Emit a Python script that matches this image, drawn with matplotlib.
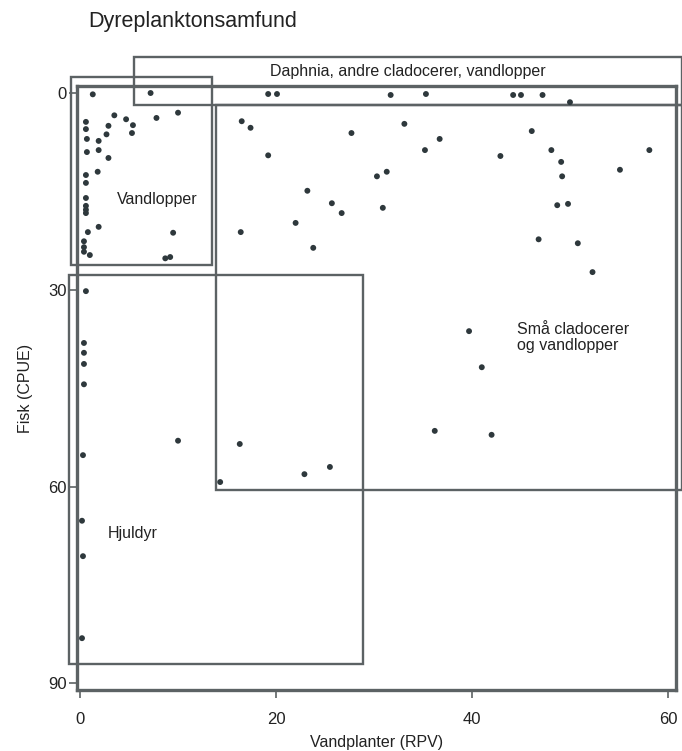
import matplotlib

matplotlib.use("Agg")
import matplotlib.pyplot as plt
from matplotlib.patches import Rectangle

plt.rcParams["font.family"] = ["Liberation Sans", "DejaVu Sans"]

INK = "#2e383c"
LINE = "#5c6264"
TXT = "#222222"

# Vandplanter (RPV) vs Fisk (CPUE) for each lake
veg = [1.3, 7.2, 3.5, 4.7, 5.4, 7.8, 10.0, 2.9, 5.3, 2.7, 0.6, 0.6, 0.7, 1.9,
       0.7, 1.9, 2.9, 1.8, 0.6, 0.6, 0.6, 0.6, 0.6, 0.6, 1.9, 0.8, 9.5, 0.4,
       0.4, 0.4, 1.0, 8.7, 9.2,
       19.2, 20.1, 31.7, 35.3, 16.5, 17.4, 19.2, 27.7, 33.1, 36.7, 35.2, 31.3,
       30.3, 23.2, 25.7, 26.7, 30.9, 22.0, 16.4, 23.8,
       44.2, 45.0, 47.2, 50.0, 46.1, 42.9, 48.1, 49.1, 49.2, 58.1, 55.1, 48.7,
       49.8, 46.8, 50.8, 52.3,
       0.6, 0.4, 0.4, 0.4, 0.4, 0.3, 10.0, 16.3, 14.3, 39.7, 41.0, 36.2, 42.0,
       22.9, 25.5, 0.2, 0.3, 0.2]
fish = [0.2, 0.0, 3.4, 4.0, 4.9, 3.8, 3.0, 5.0, 6.1, 6.3, 4.4, 5.5, 7.0, 7.3,
        9.0, 8.7, 9.9, 12.0, 12.5, 13.7, 16.0, 17.2, 17.8, 18.3, 20.4, 21.2, 21.3,
        22.6, 23.5, 24.2, 24.7, 25.2, 25.0,
        0.15, 0.15, 0.3, 0.15, 4.3, 5.3, 9.5, 6.1, 4.7, 7.0, 8.7, 12.0,
        12.7, 14.9, 16.8, 18.3, 17.5, 19.8, 21.2, 23.6,
        0.3, 0.3, 0.3, 1.4, 5.8, 9.6, 8.7, 10.5, 12.7, 8.7, 11.7, 17.1,
        16.9, 22.3, 22.9, 27.3,
        30.2, 38.1, 39.6, 41.3, 44.4, 55.2, 53.0, 53.5, 59.3, 36.3, 41.8, 51.5, 52.1,
        58.1, 57.0, 65.2, 70.6, 83.1]

xticks = [0, 20, 40, 60]
yticks = [0, 30, 60, 90]

# community boxes: (x0, y0, x1, y1) in data units
boxes = [
    (5.5, -5.5, 61.4, 1.8),    # Daphnia, andre cladocerer, vandlopper
    (-0.9, -2.4, 13.5, 26.2),  # Vandlopper
    (13.9, 1.8, 61.4, 60.5),   # Små cladocerer og vandlopper
    (-1.1, 27.7, 28.9, 87.0),  # Hjuldyr
]

fig = plt.figure(figsize=(6.82, 7.51), dpi=100)
ax = fig.add_axes([77 / 682, 1 - 690 / 751, (676 - 77) / 682, (690 - 86) / 751])

ax.scatter(veg, fish, s=18, color=INK, edgecolors="none", zorder=3)

for x0, y0, x1, y1 in boxes:
    ax.add_patch(Rectangle((x0, y0), x1 - x0, y1 - y0, fill=False,
                           edgecolor=LINE, lw=1.7, clip_on=False, zorder=2))

ax.set_xlim(-0.31, 60.82)
ax.set_ylim(91.0, -1.07)
ax.set_xticks(xticks)
ax.set_yticks(yticks)
ax.tick_params(direction="out", length=5.5, width=1.2, color=LINE,
               labelsize=12, labelcolor=TXT)
ax.tick_params(axis="x", pad=10)
ax.tick_params(axis="y", pad=2)
for sp in ax.spines.values():
    sp.set_color(LINE)
    sp.set_linewidth(2.4)

ax.set_xlabel("Vandplanter (RPV)", fontsize=11.5, color=TXT, labelpad=6)
ax.set_ylabel("Fisk (CPUE)", fontsize=11.5, color=TXT, labelpad=11)

ax.text(33.5, -3.3, "Daphnia, andre cladocerer, vandlopper", ha="center",
        va="center", fontsize=11.5, color=TXT)
ax.text(7.9, 16.3, "Vandlopper", ha="center", va="center", fontsize=11.5,
        color=TXT)
ax.text(44.6, 37.3, "Små cladocerer\nog vandlopper", ha="left", va="center",
        fontsize=11.5, color=TXT, linespacing=1.1)
ax.text(2.8, 67.1, "Hjuldyr", ha="left", va="center", fontsize=11.5,
        color=TXT)

fig.text(88 / 682, 1 - 22 / 751, "Dyreplanktonsamfund", ha="left", va="center",
         fontsize=15.5, color=TXT)

fig.savefig("out.png", dpi=100, facecolor="white")
